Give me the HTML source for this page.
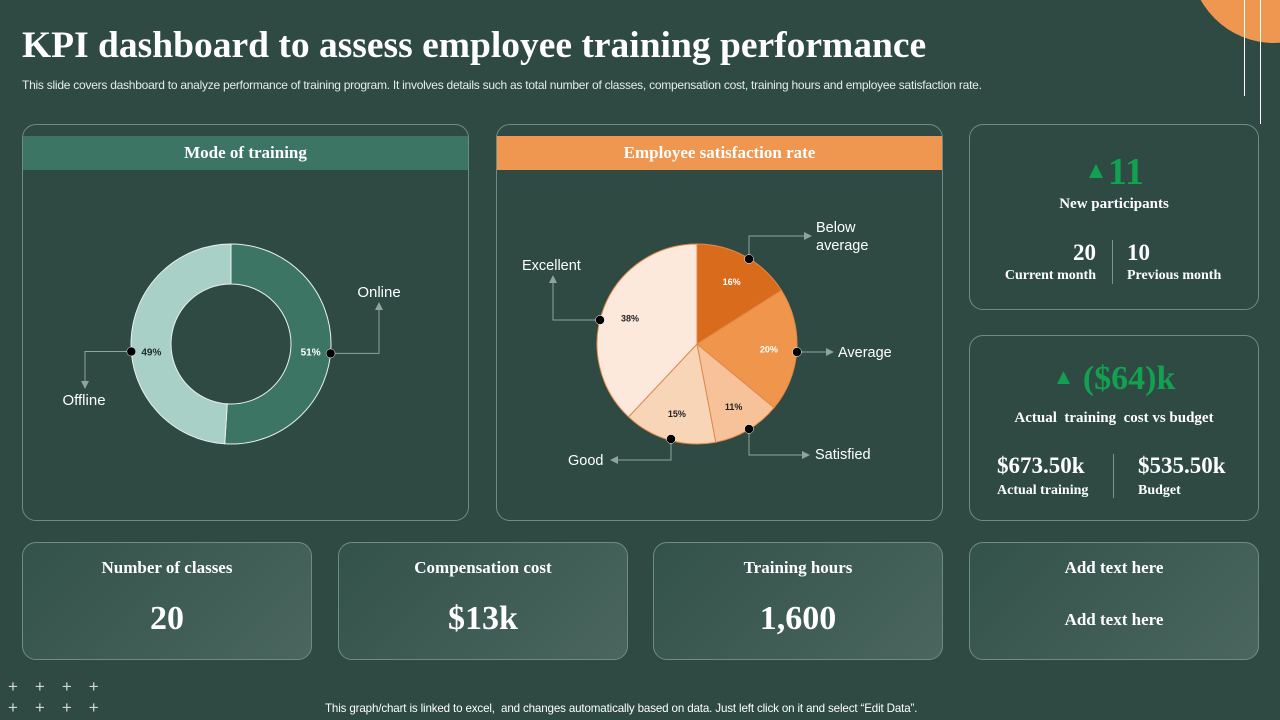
<!DOCTYPE html>
<html><head><meta charset="utf-8"><style>
*{margin:0;padding:0;box-sizing:border-box}
html,body{width:1280px;height:720px;overflow:hidden}
body{background:#2e4a42;position:relative;font-family:"Liberation Serif",serif;color:#fff}
.abs{position:absolute}
.card{position:absolute;border:1px solid #6f8c84;border-radius:14px}
.grad{background:linear-gradient(135deg,#33524a 0%,#4a665e 100%)}
.ser{font-family:"Liberation Serif",serif;font-weight:bold}
.sans{font-family:"Liberation Sans",sans-serif}
.c{text-align:center}
</style></head><body>
<svg class="abs" style="left:0;top:0" width="1280" height="130">
<circle cx="1274" cy="-41" r="84" fill="#ef9650"/>
<line x1="1244.5" y1="0" x2="1244.5" y2="96" stroke="#fff" stroke-width="1"/>
<line x1="1260.5" y1="0" x2="1260.5" y2="124" stroke="#fff" stroke-width="1"/>
</svg>
<div class="abs ser" style="left:22px;top:24px;font-size:37.5px;white-space:nowrap">KPI dashboard to assess employee training performance</div>
<div class="abs sans" style="left:22px;top:78px;font-size:12px;color:#e6ece9;white-space:nowrap;letter-spacing:-0.25px">This slide covers dashboard to analyze performance of training program. It involves details such as total number of classes, compensation cost, training hours and employee satisfaction rate.</div>

<div class="card" style="left:22px;top:124px;width:447px;height:397px"></div>
<div class="abs ser c" style="left:23px;top:136px;width:445px;height:34px;background:#3d7565;font-size:17px;line-height:34px">Mode of training</div>
<div class="card" style="left:496px;top:124px;width:447px;height:397px"></div>
<div class="abs ser c" style="left:497px;top:136px;width:445px;height:34px;background:#ef9650;font-size:17px;line-height:34px">Employee satisfaction rate</div>

<svg class="abs" style="left:0;top:0" width="1280" height="720">
<defs><marker id="ar" markerWidth="8" markerHeight="8" refX="6" refY="4" orient="auto"><path d="M0,0 L8,4 L0,8 z" fill="#8fa49e"/></marker></defs>
<g id="donut"></g>
<g id="pie"></g>
</svg>

<div class="card" style="left:969px;top:124px;width:290px;height:186px"></div>
<div class="abs ser c" style="left:969px;top:150px;width:290px;font-size:38px;color:#12a150"><span style="font-size:24px;vertical-align:6px">▲</span>11</div>
<div class="abs ser c" style="left:969px;top:196px;width:290px;font-size:15px">New participants</div>
<div class="abs ser" style="left:1000px;top:240px;width:96px;text-align:right;font-size:23px">20</div>
<div class="abs ser" style="left:990px;top:268px;width:106px;text-align:right;font-size:14px">Current month</div>
<div class="abs" style="left:1112px;top:240px;width:1px;height:44px;background:#7c948d"></div>
<div class="abs ser" style="left:1127px;top:240px;font-size:23px">10</div>
<div class="abs ser" style="left:1127px;top:268px;font-size:14px">Previous month</div>

<div class="card" style="left:969px;top:335px;width:290px;height:186px"></div>
<div class="abs ser c" style="left:969px;top:360px;width:290px;font-size:34px;color:#12a150"><span style="font-size:22px;vertical-align:5px">▲</span> ($64)k</div>
<div class="abs ser c" style="left:969px;top:410px;width:290px;font-size:15px">Actual&nbsp; training&nbsp; cost vs budget</div>
<div class="abs ser" style="left:997px;top:453px;font-size:23px">$673.50k</div>
<div class="abs ser" style="left:997px;top:483px;font-size:14px">Actual training</div>
<div class="abs" style="left:1113px;top:454px;width:1px;height:44px;background:#7c948d"></div>
<div class="abs ser" style="left:1138px;top:453px;font-size:23px">$535.50k</div>
<div class="abs ser" style="left:1138px;top:483px;font-size:14px">Budget</div>

<div class="card grad" style="left:22px;top:542px;width:290px;height:118px"></div>
<div class="abs ser c" style="left:22px;top:558px;width:290px;font-size:17px">Number of classes</div>
<div class="abs ser c" style="left:22px;top:600px;width:290px;font-size:34px">20</div>
<div class="card grad" style="left:338px;top:542px;width:290px;height:118px"></div>
<div class="abs ser c" style="left:338px;top:558px;width:290px;font-size:17px">Compensation cost</div>
<div class="abs ser c" style="left:338px;top:600px;width:290px;font-size:34px">$13k</div>
<div class="card grad" style="left:653px;top:542px;width:290px;height:118px"></div>
<div class="abs ser c" style="left:653px;top:558px;width:290px;font-size:17px">Training hours</div>
<div class="abs ser c" style="left:653px;top:600px;width:290px;font-size:34px">1,600</div>
<div class="card grad" style="left:969px;top:542px;width:290px;height:118px"></div>
<div class="abs ser c" style="left:969px;top:558px;width:290px;font-size:17px">Add text here</div>
<div class="abs ser c" style="left:969px;top:610px;width:290px;font-size:17px">Add text here</div>

<div class="abs sans" style="left:8px;top:676px;font-size:17px;line-height:21px;letter-spacing:17px;color:#cfdad6;white-space:nowrap">++++<br>++++</div>
<div class="abs sans" style="left:325px;top:702px;font-size:11.6px;color:#fff;white-space:nowrap;letter-spacing:-0.15px">This graph/chart is linked to excel,&nbsp; and changes automatically based on data. Just left click on it and select “Edit Data”.</div>

<script>
const donutCats=["Online","Offline"];
const donutVals=[51,49];
const pieCats=["Below average","Average","Satisfied","Good","Excellent"];
const pieVals=[16,20,11,15,38];
const NS="http://www.w3.org/2000/svg";
function mk(t,a,p){const e=document.createElementNS(NS,t);for(const k in a)e.setAttribute(k,a[k]);p.appendChild(e);return e;}
function pt(cx,cy,r,f){const a=f*2*Math.PI-Math.PI/2;return [cx+r*Math.cos(a),cy+r*Math.sin(a)];}
// donut
const dg=document.getElementById('donut');
const dcx=231,dcy=344,dro=100,dri=60;
const dCols=["#3d7565","#a8d0c6"];
let tot=donutVals.reduce((a,b)=>a+b,0),acc=0;
donutVals.forEach((v,i)=>{
 const f0=acc/tot,f1=(acc+v)/tot;acc+=v;
 const [x0,y0]=pt(dcx,dcy,dro,f0),[x1,y1]=pt(dcx,dcy,dro,f1),[x2,y2]=pt(dcx,dcy,dri,f1),[x3,y3]=pt(dcx,dcy,dri,f0);
 const lg=(f1-f0)>0.5?1:0;
 const p=mk('path',{d:`M${x0},${y0}A${dro},${dro} 0 ${lg} 1 ${x1},${y1}L${x2},${y2}A${dri},${dri} 0 ${lg} 0 ${x3},${y3}Z`,fill:dCols[i],stroke:"#e8f2ef","stroke-width":1},dg);
 
 
 const [mx,my]=pt(dcx,dcy,dro,(i==0?0.265:0.738));
 const [lx,ly]=pt(dcx,dcy,dro-20,(i==0?0.265:0.735));
 const t=mk('text',{x:lx,y:ly+4,"text-anchor":"middle","font-size":10,"font-weight":"bold","font-family":"Liberation Sans,sans-serif",fill:i==0?"#fff":"#1e2e2a"},dg);t.textContent=v+"%";
 
 
 if(i==0){mk('polyline',{points:`${mx},${my} 379,${my} 379,304`,fill:"none",stroke:"#8fa49e","marker-end":"url(#ar)"},dg);}
 else{mk('polyline',{points:`${mx},${my} 85,${my} 85,387`,fill:"none",stroke:"#8fa49e","marker-end":"url(#ar)"},dg);}
 mk('circle',{cx:mx,cy:my,r:4.5,fill:"#000",stroke:"#fff","stroke-width":0.5},dg);
 const c=mk('text',{x:i==0?379:84,y:i==0?297:405,"text-anchor":"middle","font-size":15,"font-family":"Liberation Sans,sans-serif",fill:"#fff"},dg);c.textContent=donutCats[i];
 
 
});
// pie
const pg=document.getElementById('pie');
const pcx=697,pcy=344,pr=100;
const pCols=["#d96c1c","#ef964c","#f7c29a","#f9d5b8","#fce9dc"];
const pTxt=["#fff","#fff","#222","#222","#222"];
tot=pieVals.reduce((a,b)=>a+b,0);acc=0;
pieVals.forEach((v,i)=>{
 const f0=acc/tot,f1=(acc+v)/tot;acc+=v;
 const [x0,y0]=pt(pcx,pcy,pr,f0),[x1,y1]=pt(pcx,pcy,pr,f1);
 const lg=(f1-f0)>0.5?1:0;
 const p=mk('path',{d:`M${pcx},${pcy}L${x0},${y0}A${pr},${pr} 0 ${lg} 1 ${x1},${y1}Z`,fill:pCols[i],stroke:"#e0894a","stroke-width":1},pg);
 
 
 const fm=(f0+f1)/2;
 const [lx,ly]=pt(pcx,pcy,pr*0.72,fm);
 const t=mk('text',{x:lx,y:ly+4,"text-anchor":"middle","font-size":9,"font-weight":"bold","font-family":"Liberation Sans,sans-serif",fill:pTxt[i]},pg);t.textContent=v+"%";
 
 
});
const lines=["749,259 749,236 810,236","797,352 832,352","749,429 749,455 808,455","671,439 671,460 612,460","600,320 553,320 553,277"];
lines.forEach(l=>mk('polyline',{points:l,fill:"none",stroke:"#8fa49e","marker-end":"url(#ar)"},pg));
const dots=[[749,259],[797,352],[749,429],[671,439],[600,320]];
dots.forEach(d=>mk('circle',{cx:d[0],cy:d[1],r:4.5,fill:"#000",stroke:"#fff","stroke-width":0.5},pg));
const lbls=[[816,232,"Below"],[816,250,"average"],[838,357,"Average"],[815,459,"Satisfied"],[568,465,"Good"],[522,270,"Excellent"]];
lbls.forEach(l=>{const t=mk('text',{x:l[0],y:l[1],"font-size":14.5,"font-family":"Liberation Sans,sans-serif",fill:"#fff"},pg);t.textContent=l[2];
 
 });
</script>
</body></html>
